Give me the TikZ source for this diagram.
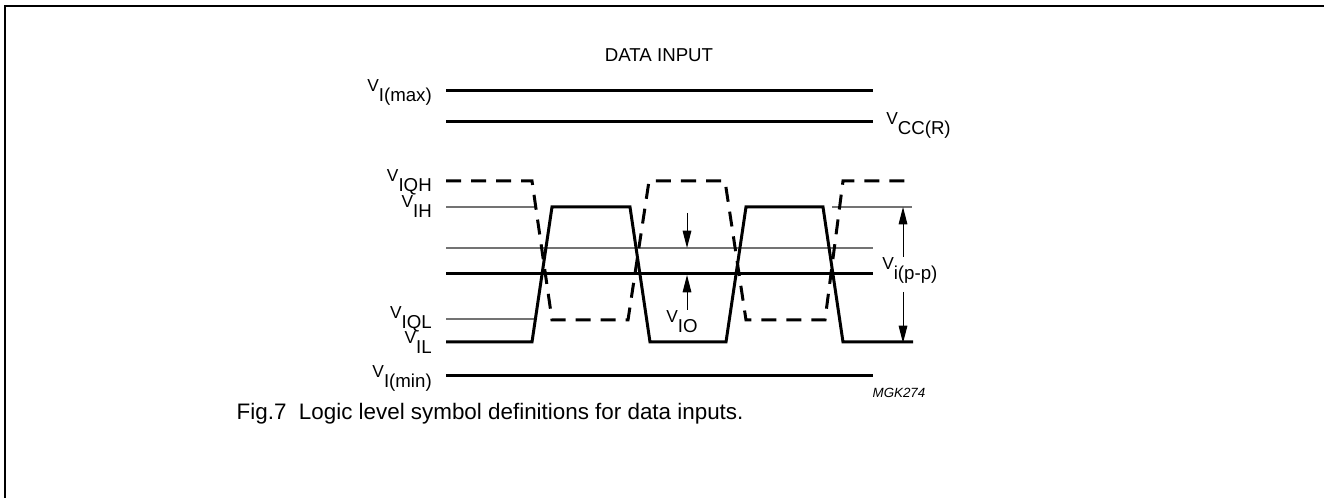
\documentclass[tikz,border=0pt]{standalone}
\usepackage{fontspec}
\setmainfont{Liberation Sans}
\usetikzlibrary{arrows.meta}
\definecolor{gray1}{rgb}{0.45,0.45,0.45}
\newcommand{\vsub}[1]{{\fontsize{13pt}{15pt}\selectfont V}\raisebox{-7pt}{#1}}

\begin{document}
\begin{tikzpicture}[x=0.75pt,y=-0.75pt,
  level/.style={line width=2.25pt},
  thinlevel/.style={line width=1.1pt, color=gray1},
  quiet/.style={line width=2.25pt, dash pattern=on 11.25pt off 7.5pt},
  lbl/.style={inner sep=0pt, font=\fontsize{14pt}{16pt}\selectfont},
  meas/.style={line width=0.75pt, -{Triangle[length=13pt,width=6.5pt]}}]
\useasboundingbox (0,0) rectangle (1324,498);
\draw[line width=1.5pt] (4.5,498) -- (4.5,6.5) -- (1324,6.5);
\node[lbl, font=\fontsize{14pt}{16pt}\selectfont, anchor=base] (title) at (659,62) {DATA INPUT};
% supply and limit levels
\draw[level] (446,91) -- (873,91);
\draw[level] (446,122) -- (873,122);
\draw[level] (446,376) -- (873,376);
% thresholds
\draw[thinlevel] (446,207) -- (536,207);
\draw[thinlevel] (832,207) -- (912,207);
\draw[thinlevel] (446,248) -- (873,248);
\draw[level] (446,274) -- (873,274);
\draw[thinlevel] (446,319) -- (535,319);
% input signal
\draw[level] (446,342) -- (532,342) -- (552,207) -- (630,207) -- (650,342)
  -- (726,342) -- (746,207) -- (823,207) -- (843,342) -- (913,342);
% quiescent levels
\draw[quiet] (446,181) -- (532,181) -- (552,320) -- (628,320) -- (649,181)
  -- (725,181) -- (746,320) -- (825,320) -- (843,181) -- (913,181);
% labels
\node[lbl, anchor=base east] (vmax) at (432,92) {\vsub{I(max)}};
\node[lbl, anchor=base west] (vcc) at (886,125) {\vsub{CC(R)}};
\node[lbl, anchor=base east] (viqh) at (432,182) {\vsub{IQH}};
\node[lbl, anchor=base east] (vih) at (432,208) {\vsub{IH}};
\node[lbl, anchor=base east] (viql) at (432,319) {\vsub{IQL}};
\node[lbl, anchor=base east] (vil) at (432,344) {\vsub{IL}};
\node[lbl, anchor=base east] (vmin) at (432,378) {\vsub{I(min)}};
\node[lbl, anchor=base west] (vio) at (666,323) {\vsub{IO}};
\node[lbl, anchor=base west] (vpp) at (882,270) {\vsub{i(p-p)}};
% offset and swing arrows
\coordinate (iotop) at (687,213);
\coordinate (iohi) at (687,248);
\coordinate (iobot) at (687,310);
\coordinate (iolo) at (687,275);
\coordinate (pptop) at (903,257);
\coordinate (pphi) at (903,207);
\coordinate (ppbot) at (903,292);
\coordinate (pplo) at (903,343);
\draw[meas] (iotop) -- (iohi);
\draw[meas] (iobot) -- (iolo);
\draw[meas] (pptop) -- (pphi);
\draw[meas] (ppbot) -- (pplo);
\node[font=\fontsize{10pt}{12pt}\selectfont\itshape] (code) at (899,393) {MGK274};
\node[font=\fontsize{16.8pt}{20pt}\selectfont, anchor=base west] (caption) at (232,420) {Fig.7\ \ Logic level symbol definitions for data inputs.};
\end{tikzpicture}
\end{document}
